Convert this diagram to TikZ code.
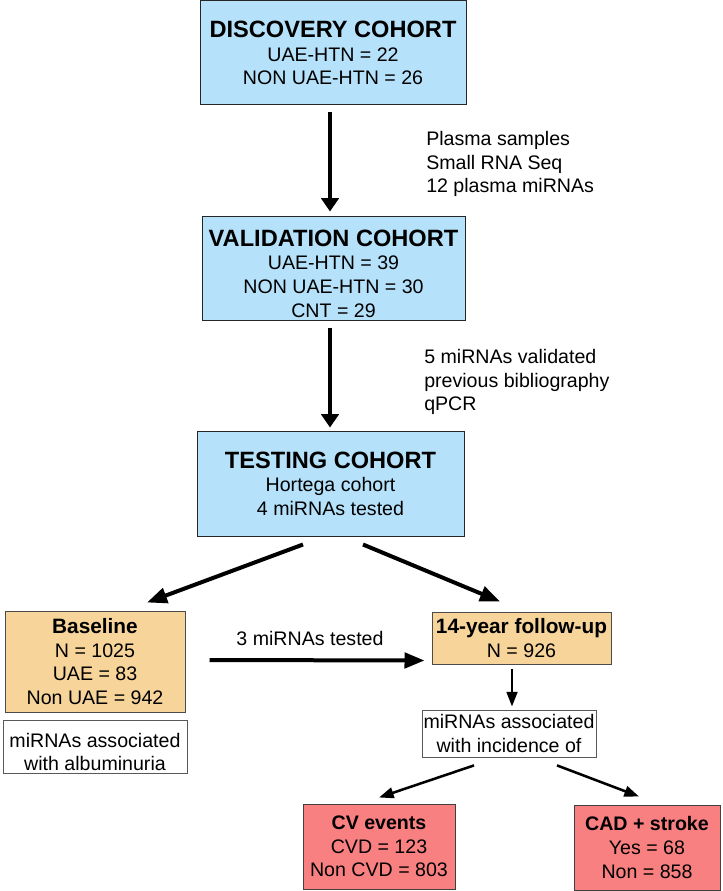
\documentclass[tikz,border=0pt]{standalone}
\usepackage{fontspec}
\setmainfont{Liberation Sans}
\usetikzlibrary{arrows.meta,calc}
\definecolor{cohortblue}{RGB}{181,226,250}
\definecolor{stagetan}{RGB}{246,212,154}
\definecolor{eventred}{RGB}{249,128,128}
\newcommand{\cohorttitle}[1]{{\fontsize{17.7}{17.7}\selectfont\bfseries #1}}
\newcommand{\stagetitle}[1]{{\fontsize{15.6}{17.7}\selectfont\bfseries #1}}
\newcommand{\eventtitle}[1]{{\fontsize{14.7}{17.7}\selectfont\bfseries #1}}
\begin{document}
\begin{tikzpicture}[x=0.75pt, y=-0.75pt,
    every node/.style={font=\fontsize{14.7}{17.7}\selectfont, inner sep=0pt},
    cohort/.style={draw=black!85, line width=0.75pt, fill=cohortblue, align=center},
    stage/.style={draw=black!70, line width=0.75pt, fill=stagetan, align=center},
    event/.style={draw=black!75, line width=0.75pt, fill=eventred, align=center},
    finding/.style={draw=black!65, line width=0.6pt, fill=white, align=center},
    downarrow/.style={-{Triangle[length=10pt,width=13pt]}, line width=3.2pt},
    sidearrow/.style={-{Triangle[length=15pt,width=11.5pt]}, line width=3pt},
    thinarrow/.style={-{Triangle[length=11pt,width=8pt]}, line width=1.9pt}]
  \useasboundingbox (0,0) rectangle (722,891);
  \node[cohort, minimum width=199.5pt, minimum height=78pt] (disc) at (333,53)
    {\cohorttitle{DISCOVERY COHORT}\\UAE-HTN = 22\\NON UAE-HTN = 26};
  \node[cohort, minimum width=197.25pt, minimum height=77.25pt] (valid) at (333.5,268.5)
    {\rule{0pt}{20pt}\cohorttitle{VALIDATION COHORT}\\UAE-HTN = 39\\NON UAE-HTN = 30\\CNT = 29};
  \node[cohort, minimum width=200.25pt, minimum height=78.75pt] (test) at (330.5,483.5)
    {\cohorttitle{TESTING COHORT}\\Hortega cohort\\4 miRNAs tested};
  \node[stage, minimum width=135pt, minimum height=75.75pt] (base) at (95,661.5)
    {\stagetitle{Baseline}\\N = 1025\\UAE = 83\\Non UAE = 942};
  \node[finding, minimum width=138pt, minimum height=39.75pt] (albu) at (95,746.5)
    {\rule{0pt}{19pt}miRNAs associated\\with albuminuria};
  \node[stage, minimum width=134.25pt, minimum height=39pt] (follow) at (521.5,638)
    {\stagetitle{14-year follow-up}\\N = 926};
  \node[finding, minimum width=130.5pt, minimum height=35.25pt] (incid) at (509,733.5)
    {miRNAs associated\\with incidence of};
  \node[event, minimum width=114pt, minimum height=63.75pt] (cv) at (379,846.5)
    {\eventtitle{CV events}\\CVD = 123\\Non CVD = 803};
  \node[event, minimum width=109.5pt, minimum height=63.75pt] (cad) at (647,847.5)
    {\eventtitle{CAD + stroke}\\Yes = 68\\Non = 858};
  \node[anchor=west, align=left] (seq) at (426,164)
    {Plasma samples\\Small RNA Seq\\12 plasma miRNAs};
  \node[anchor=west, align=left] (qpcr) at (424,382)
    {5 miRNAs validated\\previous bibliography\\qPCR};
  \node (tested) at (310,638) {3 miRNAs tested};
  \begin{scope}
    \draw[downarrow] ($(disc.south)+(-3,7)$) -- ($(valid.north)+(-3.5,-5)$);
    \draw[downarrow] ($(valid.south)+(-3.5,7)$) -- ($(test.north)+(-0.5,-3)$);
    \draw[sidearrow] ($(test.south)+(-27.5,8)$) -- ($(base.north)+(52,-8)$);
    \draw[sidearrow] ($(test.south)+(32.5,8)$) -- ($(follow.north)+(-21.5,-10)$);
    \draw[sidearrow] ($(base.east)+(24,-1.5)$) -- ($(follow.south west)+(-7,-4)$);
    \draw[thinarrow] ($(follow.south)+(-9.5,4)$) -- ($(incid.north)+(3,-3)$);
    \draw[thinarrow] ($(incid.south)+(-35,8)$) -- ($(cv.north)+(0,-6)$);
    \draw[thinarrow] ($(incid.south)+(48,8)$) -- ($(cad.north)+(-8,-8)$);
  \end{scope}
\end{tikzpicture}
\end{document}
